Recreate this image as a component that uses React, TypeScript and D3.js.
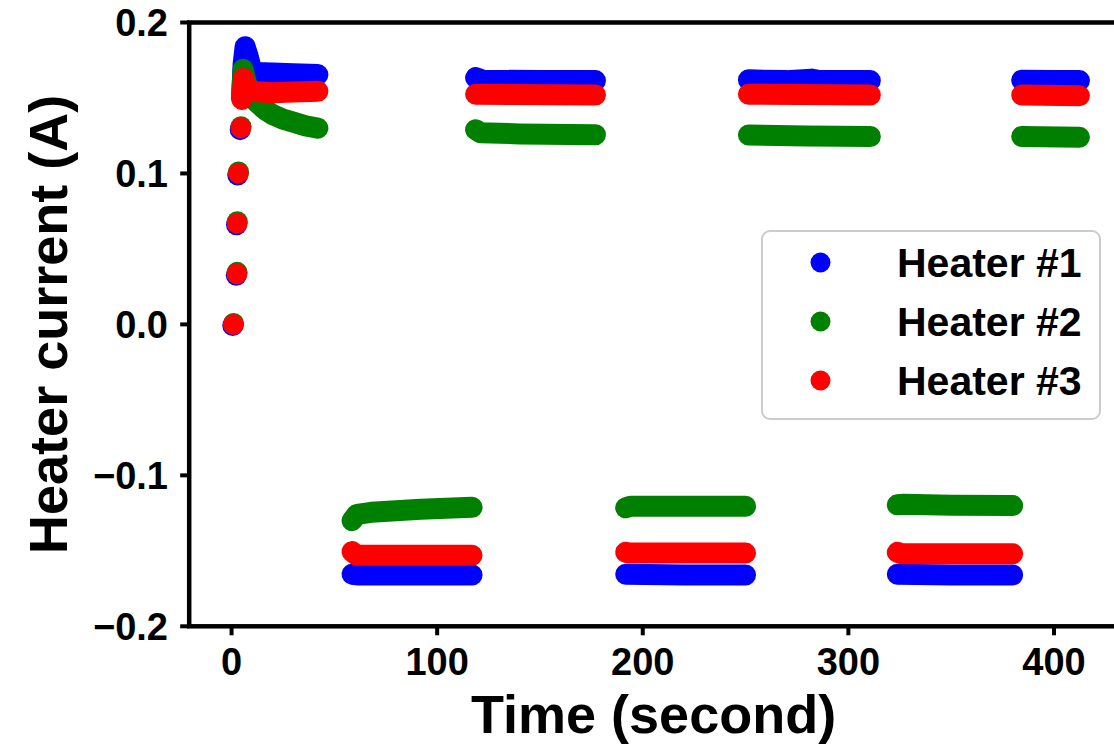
import React from "react";
import * as d3 from "d3";

type Pt = [number, number];

// ---- data ----
const seriesNames = ["Heater #1", "Heater #2", "Heater #3"];
const seriesColors = ["#0000ff", "#008000", "#ff0000"];

const xTicks = [0, 100, 200, 300, 400];
const yTicks = [0.2, 0.1, 0.0, -0.1, -0.2];
const yTickLabels = ["0.2", "0.1", "0.0", "\u22120.1", "\u22120.2"];

// isolated start-up samples (t [s], current [A])
const heater1Dots: Pt[] = [[0.6, -0.0008], [2.3, 0.0325], [2.4, 0.066], [3.0, 0.099], [4.2, 0.129]];
const heater2Dots: Pt[] = [[1.0, 0.0006], [2.7, 0.0345], [2.8, 0.068], [3.4, 0.101], [4.6, 0.131]];
const heater3Dots: Pt[] = [[0.9, 0.0], [2.6, 0.0335], [2.7, 0.067], [3.3, 0.1002], [4.5, 0.1302]];

// densely sampled runs (drawn as contiguous marker trails)
const heater1Runs: Pt[][] = [
  [[4.9, 0.15], [5.6, 0.172], [6.6, 0.184], [8, 0.178], [9.5, 0.17], [12, 0.1668], [20, 0.1665], [30, 0.166], [42, 0.1655]],
  [[58.6, -0.1655], [62, -0.166], [90, -0.166], [117, -0.166]],
  [[118.7, 0.1635], [122, 0.1618], [150, 0.1615], [177, 0.1615]],
  [[191.7, -0.1655], [220, -0.166], [250, -0.166]],
  [[251.4, 0.162], [270, 0.1615], [282, 0.1625], [286, 0.1615], [310.7, 0.1615]],
  [[323.8, -0.1655], [350, -0.166], [379.9, -0.166]],
  [[384.3, 0.1618], [400, 0.1615], [412.4, 0.1615]],
];
const heater2Runs: Pt[][] = [
  [[4.9, 0.152], [5.6, 0.169], [7, 0.161], [9, 0.153], [12, 0.1475], [16, 0.1425], [20, 0.139], [25, 0.136], [30, 0.134], [36, 0.1315], [42, 0.13]],
  [[58.6, -0.13], [61, -0.1258], [68, -0.1245], [92, -0.1225], [117, -0.1212]],
  [[118.7, 0.129], [121, 0.127], [140, 0.1262], [177, 0.1257]],
  [[191.7, -0.1215], [194, -0.1205], [250, -0.1205]],
  [[251.4, 0.1255], [280, 0.1248], [310.7, 0.1245]],
  [[323.8, -0.1195], [327, -0.1192], [350, -0.1198], [379.9, -0.12]],
  [[384.3, 0.1245], [412.4, 0.124]],
];
const heater3Runs: Pt[][] = [
  [[5.0, 0.149], [5.8, 0.163], [7, 0.157], [9, 0.1545], [20, 0.1535], [30, 0.154], [42, 0.1545]],
  [[58.6, -0.1505], [61, -0.153], [117, -0.153]],
  [[118.7, 0.1525], [177, 0.152]],
  [[191.7, -0.151], [194, -0.1515], [250, -0.1515]],
  [[251.4, 0.1525], [310.7, 0.152]],
  [[323.8, -0.151], [326, -0.152], [379.9, -0.152]],
  [[384.3, 0.152], [412.4, 0.1515]],
];

const allDots = [heater1Dots, heater2Dots, heater3Dots];
const allRuns = [heater1Runs, heater2Runs, heater3Runs];

const W = 1114;
const H = 747;
const FONT = "'Liberation Sans', Arial, Helvetica, sans-serif";

export default function App() {
  const x = d3.scaleLinear().domain([-20.6, 432.6]).range([189.2, 1121.0]);
  const y = d3.scaleLinear().domain([-0.2, 0.2]).range([626.3, 22.5]);
  const line = d3
    .line<Pt>()
    .x((d) => x(d[0]))
    .y((d) => y(d[1]));

  const R = 10.5;
  const [x0, x1] = x.range();
  const [yb, yt] = y.range();

  const legX = 762, legY = 231, legW = 338, legH = 188;
  const rowY = (i: number) => 262.5 + i * 59;

  return (
    <svg
      width={W}
      height={H}
      style={{ position: "absolute", left: 0, top: 0, background: "#fff" }}
      fontFamily={FONT}
      fontWeight="bold"
    >
      <rect x={0} y={0} width={W} height={H} fill="#fff" />

      {/* data */}
      {allRuns.map((runs, si) => (
        <g key={"s" + si}>
          {runs.map((run, ri) => (
            <path
              key={ri}
              d={line(run) || ""}
              fill="none"
              stroke={seriesColors[si]}
              strokeWidth={2 * R}
              strokeLinecap="round"
              strokeLinejoin="round"
            />
          ))}
          {allDots[si].map((d, di) => (
            <circle key={"d" + di} cx={x(d[0])} cy={y(d[1])} r={R} fill={seriesColors[si]} />
          ))}
        </g>
      ))}

      {/* spines */}
      <rect x={x0} y={yt} width={x1 - x0} height={yb - yt} fill="none" stroke="#000" strokeWidth={4.5} />

      {/* y ticks */}
      {yTicks.map((t, i) => (
        <g key={"yt" + i}>
          <line x1={x0 - 9} x2={x0} y1={y(t)} y2={y(t)} stroke="#000" strokeWidth={4} />
          <text x={168} y={y(t) + 13.6} textAnchor="end" fontSize={38} fill="#000">
            {yTickLabels[i]}
          </text>
        </g>
      ))}

      {/* x ticks */}
      {xTicks.map((t, i) => (
        <g key={"xt" + i}>
          <line x1={x(t)} x2={x(t)} y1={yb} y2={yb + 9} stroke="#000" strokeWidth={4} />
          <text x={x(t)} y={675} textAnchor="middle" fontSize={38} fill="#000">
            {String(t)}
          </text>
        </g>
      ))}

      {/* axis labels */}
      <text x={(x(-20.6) + 1114) / 2 + 2} y={733} textAnchor="middle" fontSize={54} fill="#000">
        Time (second)
      </text>
      <text
        transform={`translate(67, ${(yb + yt) / 2}) rotate(-90)`}
        textAnchor="middle"
        fontSize={54}
        fill="#000"
      >
        Heater current (A)
      </text>

      {/* legend */}
      <rect
        x={legX}
        y={legY}
        width={legW}
        height={legH}
        rx={8}
        ry={8}
        fill="#fff"
        fillOpacity={0.8}
        stroke="#cccccc"
        strokeWidth={2}
      />
      {seriesNames.map((n, i) => (
        <g key={"lg" + i}>
          <circle cx={820.5} cy={rowY(i)} r={10} fill={seriesColors[i]} />
          <text x={897} y={rowY(i) + 14.7} fontSize={41} fill="#000">
            {n}
          </text>
        </g>
      ))}
    </svg>
  );
}
